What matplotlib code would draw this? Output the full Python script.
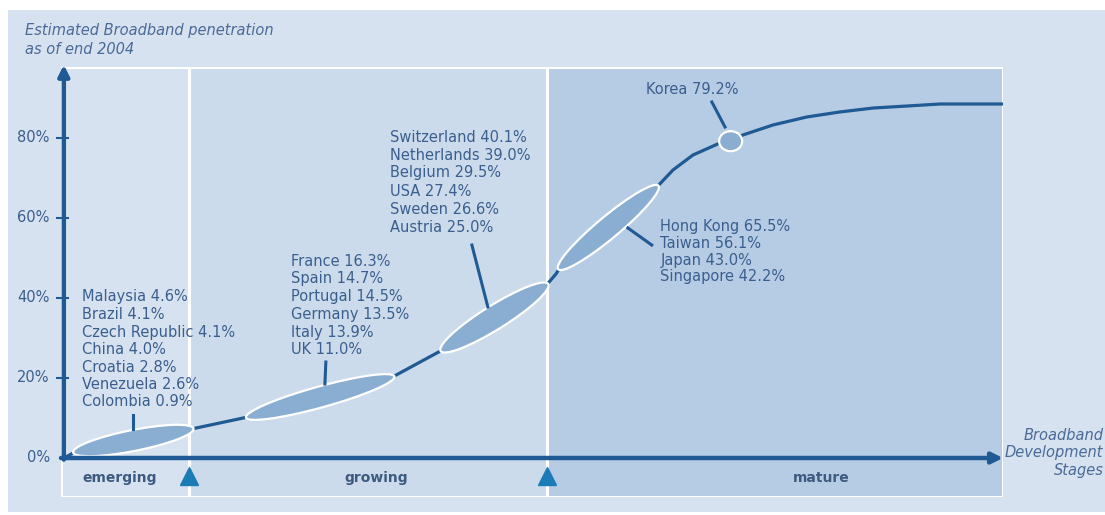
import numpy as np
import matplotlib
matplotlib.use("Agg")
import matplotlib.pyplot as plt
from matplotlib.patches import Rectangle, Ellipse
from matplotlib.transforms import IdentityTransform

# --- data ---
# adoption curve: development stage position (0-100) vs penetration (%)
curve_x = [0.0, 1.2, 7.5, 13.6, 19.6, 27.3, 35.0, 40.3, 45.7, 51.4, 52.4, 52.8,
           58.0, 63.15, 64.86, 66.99, 69.86, 71.0, 72.3, 75.5, 79.1, 82.6, 86.2,
           89.8, 93.3, 96.8, 100.0]
curve_y = [0.0, 1.5, 4.25, 7.25, 10.25, 15.25, 20.25, 27.0, 35.0, 43.25, 46.0, 47.5,
           58.0, 67.75, 72.0, 75.75, 78.75, 79.2, 80.75, 83.25, 85.25, 86.5, 87.5,
           88.0, 88.5, 88.5, 88.5]

stage_names = ["emerging", "growing", "mature"]
stage_edges = [-0.3, 13.3, 51.5, 100.0]
stage_label_x = [5.95, 33.3, 80.7]

emerging_countries = ["Malaysia", "Brazil", "Czech Republic", "China", "Croatia", "Venezuela", "Colombia"]
emerging_values = [4.6, 4.1, 4.1, 4.0, 2.8, 2.6, 0.9]
europe1_countries = ["France", "Spain", "Portugal", "Germany", "Italy", "UK"]
europe1_values = [16.3, 14.7, 14.5, 13.5, 13.9, 11.0]
europe2_countries = ["Switzerland", "Netherlands", "Belgium", "USA", "Sweden", "Austria"]
europe2_values = [40.1, 39.0, 29.5, 27.4, 26.6, 25.0]
asia_countries = ["Hong Kong", "Taiwan", "Japan", "Singapore"]
asia_values = [65.5, 56.1, 43.0, 42.2]
korea_value = 79.2
korea_x = 71.0

# stretch of the curve each group covers
group_spans = [(1.2, 13.6), (19.6, 35.0), (40.3, 51.4), (52.8, 63.15)]

yticks = [0, 20, 40, 60, 80]

# --- style ---
BG = "#d7e2f0"
BAND = ["#d7e2f0", "#ccdbec", "#b6cbe4"]
DARK = "#1f5a94"
FILL = "#8aadd2"
TXT = "#3a5f8e"
TRI = "#1b7bb6"
FONT = "DejaVu Sans"

W, H = 1105, 515
fig = plt.figure(figsize=(W / 100, H / 100), dpi=100)
fig.patch.set_facecolor("white")
fig.patches.append(Rectangle((8 / W, 3 / H), 1 - 8 / W, (H - 13) / H,
                             transform=fig.transFigure, facecolor=BG, edgecolor="none", zorder=-5))

ax = fig.add_axes([61 / W, (H - 497) / H, 942 / W, 430 / H])
ax.set_xlim(stage_edges[0], stage_edges[-1])
ax.set_ylim(-9.75, 97.75)
ax.axis("off")

# stage bands with white separators
for i in range(3):
    ax.add_patch(Rectangle((stage_edges[i], -9.75), stage_edges[i + 1] - stage_edges[i], 107.5,
                           facecolor=BAND[i], edgecolor="white", lw=2.2, zorder=1))

# axes with arrow heads
ax.annotate("", xy=(0, 98.3), xytext=(0, -0.4),
            arrowprops=dict(arrowstyle="-|>", lw=3.2, color=DARK, mutation_scale=16,
                            shrinkA=0, shrinkB=0), annotation_clip=False, zorder=5)
ax.annotate("", xy=(100, 0), xytext=(-0.3, 0),
            arrowprops=dict(arrowstyle="-|>", lw=3.2, color=DARK, mutation_scale=16,
                            shrinkA=0, shrinkB=0), annotation_clip=False, zorder=5)
for v in yticks:
    if v > 0:
        ax.plot([-0.75, 0.45], [v, v], color=DARK, lw=1.5, clip_on=False, zorder=5)
    ax.text(-1.5, v, f"{v}%", ha="right", va="center", fontsize=10.5, color=TXT,
            family=FONT, clip_on=False)

# curve
ax.plot(curve_x, curve_y, color=DARK, lw=2.3, solid_capstyle="round",
        solid_joinstyle="round", zorder=3)

# group ellipses drawn in pixel space so they stay round along the curve
fig.canvas.draw()
to_px = ax.transData.transform
minor_px = [21, 21, 24, 22]
for (x0, x1), mh in zip(group_spans, minor_px):
    p0 = to_px((x0, np.interp(x0, curve_x, curve_y)))
    p1 = to_px((x1, np.interp(x1, curve_x, curve_y)))
    c = (p0 + p1) / 2
    d = p1 - p0
    ang = np.degrees(np.arctan2(d[1], d[0]))
    ax.add_patch(Ellipse(c, np.hypot(*d) + 4, mh, angle=ang, transform=IdentityTransform(),
                         facecolor=FILL, edgecolor="white", lw=1.6, zorder=4))
kc = to_px((korea_x, korea_value))
ax.add_patch(Ellipse(kc, 23, 20, transform=IdentityTransform(),
                     facecolor=FILL, edgecolor="white", lw=1.6, zorder=4))

# country labels
def label_block(x, y_top, names, values, step=4.4):
    for k, (n, v) in enumerate(zip(names, values)):
        ax.text(x, y_top - k * step, f"{n} {v:.1f}%", ha="left", va="center",
                fontsize=10.5, color=TXT, family=FONT, zorder=6)

label_block(1.9, 40.25, emerging_countries, emerging_values, 4.375)
label_block(24.2, 49.25, europe1_countries, europe1_values, 4.45)
label_block(34.7, 80.25, europe2_countries, europe2_values, 4.5)
label_block(63.5, 58.0, asia_countries, asia_values, 4.25)
ax.text(62.0, 92.25, f"Korea {korea_value:.1f}%", ha="left", va="center",
        fontsize=10.5, color=TXT, family=FONT, zorder=6)

# leader lines
leaders = [((7.35, 7.35), (10.75, 7.25)),
           ((27.9, 27.8), (24.0, 18.5)),
           ((43.45, 45.15), (53.25, 37.75)),
           ((60.06, 62.6), (57.5, 53.25)),
           ((69.0, 70.4), (89.0, 82.75))]
for lx, ly in leaders:
    ax.plot(lx, ly, color=DARK, lw=2.2, zorder=5)

# stage names and boundary markers
for name, cx in zip(stage_names, stage_label_x):
    ax.text(cx, -5.0, name, ha="center", va="center", fontsize=10, fontweight="bold",
            color="#3d5a80", family=FONT)
ax.plot(stage_edges[1:3], [-4.6, -4.6], ls="none", marker="^", ms=13, color=TRI,
        clip_on=False, zorder=6)

# axis titles
ax.text(-4.15, 106.75, "Estimated Broadband penetration", ha="left", va="center",
        fontsize=10.5, style="italic", color="#4a6a98", family=FONT, clip_on=False)
ax.text(-4.15, 102.0, "as of end 2004", ha="left", va="center",
        fontsize=10.5, style="italic", color="#4a6a98", family=FONT, clip_on=False)
ax.text(110.7, 1.25, "Broadband\nDevelopment\nStages", ha="right", va="center",
        fontsize=10.5, style="italic", color="#4a6a98", family=FONT, clip_on=False,
        linespacing=1.25)

fig.savefig("out.png", dpi=100, facecolor=fig.get_facecolor())
